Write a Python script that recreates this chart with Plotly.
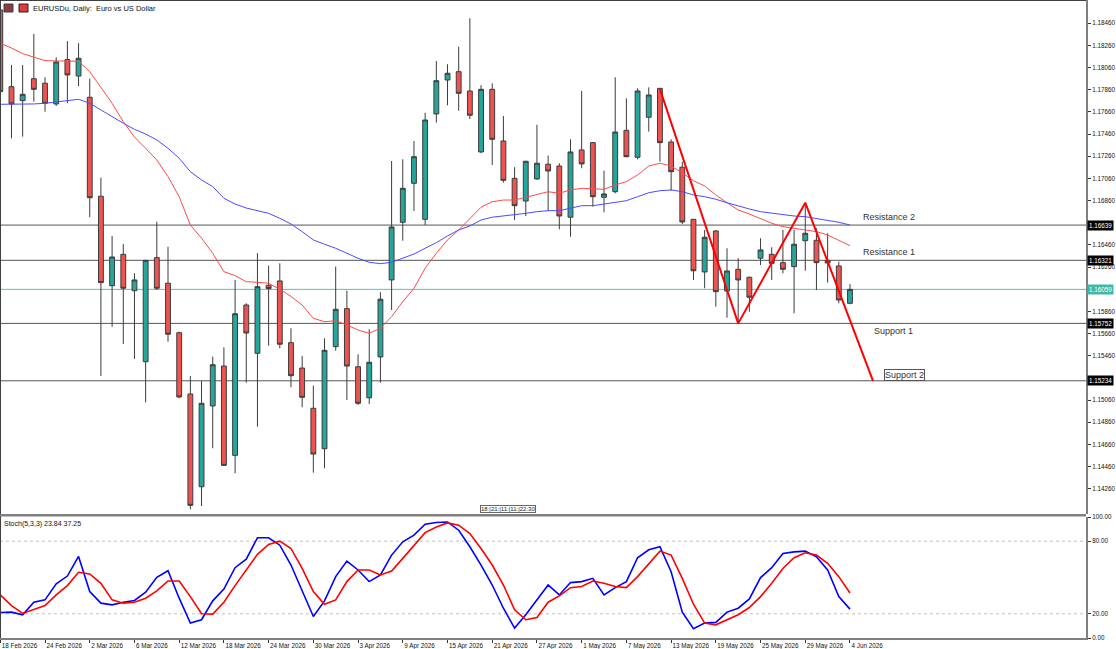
import plotly.graph_objects as go
import pandas as pd

# ---------------- DATA ----------------
dates = pd.bdate_range("2026-02-18", "2026-06-04")  # daily trading bars (weekdays)

opens = [1.18580, 1.17888, 1.17762, 1.17960, 1.17919, 1.17732, 1.18132, 1.17984, 1.17792, 1.16899,
         1.16092, 1.16375, 1.16047, 1.15406, 1.16345, 1.16114, 1.15668, 1.15115, 1.14278, 1.15007,
         1.15367, 1.14561, 1.15918, 1.15482, 1.16096, 1.16135, 1.15578, 1.15349, 1.14986, 1.14621,
         1.15542, 1.15885, 1.15361, 1.15081, 1.15449, 1.16144, 1.16664, 1.17016, 1.16691, 1.17642,
         1.17948, 1.18023, 1.17849, 1.17299, 1.17864, 1.17398, 1.17061, 1.16856, 1.17055, 1.17188,
         1.17172, 1.16710, 1.17317, 1.17383, 1.16890, 1.16940, 1.17494, 1.17251, 1.17612, 1.17873,
         1.17389, 1.17161, 1.16691, 1.16216, 1.16586, 1.16044, 1.16240, 1.16168, 1.16340, 1.16375,
         1.16300, 1.16264, 1.16498, 1.16502, 1.16321, 1.16270, 1.15933]
highs = [1.18620, 1.18084, 1.18084, 1.18364, 1.17973, 1.18153, 1.18300, 1.18280, 1.17960, 1.17067,
         1.16541, 1.16468, 1.16204, 1.16324, 1.16670, 1.16444, 1.15677, 1.15277, 1.15232, 1.15452,
         1.15536, 1.16144, 1.15933, 1.16385, 1.16273, 1.16294, 1.15708, 1.15458, 1.15190, 1.15618,
         1.16264, 1.16047, 1.15473, 1.15699, 1.16033, 1.17217, 1.17233, 1.17398, 1.17653, 1.18120,
         1.18090, 1.18249, 1.18505, 1.17901, 1.17919, 1.17623, 1.17161, 1.17218, 1.17545, 1.17266,
         1.17197, 1.17413, 1.17849, 1.17389, 1.17130, 1.17973, 1.17783, 1.17873, 1.17882, 1.17876,
         1.17413, 1.17211, 1.16694, 1.16595, 1.16595, 1.16430, 1.16340, 1.16173, 1.16520, 1.16439,
         1.16595, 1.16595, 1.16820, 1.16610, 1.16565, 1.16309, 1.16108]
lows = [1.17800, 1.17422, 1.17437, 1.17753, 1.17662, 1.17714, 1.17738, 1.17894, 1.16710, 1.15277,
        1.15722, 1.15566, 1.15431, 1.15040, 1.16053, 1.15587, 1.15076, 1.14074, 1.14104, 1.14625,
        1.14465, 1.14399, 1.15217, 1.14820, 1.15551, 1.15527, 1.15175, 1.14995, 1.14405, 1.14444,
        1.15506, 1.15061, 1.15016, 1.15025, 1.15217, 1.15873, 1.16498, 1.16766, 1.16640, 1.17563,
        1.17720, 1.17671, 1.17596, 1.17287, 1.17181, 1.17022, 1.16685, 1.16721, 1.17046, 1.16766,
        1.16601, 1.16534, 1.17152, 1.16805, 1.16754, 1.16926, 1.17251, 1.17233, 1.17482, 1.17211,
        1.16949, 1.16649, 1.16144, 1.16069, 1.15903, 1.15803, 1.15753, 1.15857, 1.16279, 1.16144,
        1.16204, 1.15843, 1.16227, 1.16053, 1.16120, 1.15933, 1.15924]
closes = [1.17843, 1.17732, 1.17819, 1.17864, 1.17738, 1.18111, 1.17994, 1.18144, 1.16886, 1.16120,
          1.16351, 1.16069, 1.16144, 1.16321, 1.16069, 1.15654, 1.15088, 1.14110, 1.15031, 1.15379,
          1.14471, 1.15839, 1.15665, 1.16083, 1.16066, 1.15564, 1.15280, 1.15085, 1.14573, 1.15509,
          1.15879, 1.15367, 1.15031, 1.15401, 1.15970, 1.16622, 1.16971, 1.17256, 1.17587, 1.17942,
          1.18009, 1.17828, 1.17630, 1.17864, 1.17413, 1.17043, 1.16814, 1.17215, 1.17197, 1.17127,
          1.16721, 1.17299, 1.17191, 1.16895, 1.16920, 1.17479, 1.17256, 1.17849, 1.17813, 1.17383,
          1.17121, 1.16667, 1.16227, 1.16529, 1.16038, 1.16225, 1.16144, 1.15988, 1.16415, 1.16294,
          1.16240, 1.16466, 1.16565, 1.16300, 1.16297, 1.15963, 1.16059]

ma_fast = [1.18280, 1.18237, 1.18186, 1.18153, 1.18123, 1.18120, 1.18117, 1.18117, 1.18023, 1.17885,
           1.17738, 1.17572, 1.17434, 1.17332, 1.17226, 1.17076, 1.16895, 1.16640, 1.16520, 1.16385,
           1.16219, 1.16183, 1.16128, 1.16123, 1.16114, 1.16060, 1.15995, 1.15918, 1.15798, 1.15767,
           1.15776, 1.15738, 1.15692, 1.15663, 1.15708, 1.15813, 1.15948, 1.16069, 1.16250, 1.16385,
           1.16505, 1.16595, 1.16700, 1.16800, 1.16850, 1.16865, 1.16865, 1.16890, 1.16920, 1.16940,
           1.16926, 1.16956, 1.16971, 1.16968, 1.16962, 1.17001, 1.17031, 1.17091, 1.17172, 1.17197,
           1.17172, 1.17112, 1.17039, 1.16992, 1.16911, 1.16841, 1.16775, 1.16739, 1.16700, 1.16655,
           1.16625, 1.16610, 1.16595, 1.16580, 1.16550, 1.16505, 1.16453]
ma_slow = [1.17729, 1.17729, 1.17732, 1.17732, 1.17738, 1.17750, 1.17762, 1.17774, 1.17738, 1.17678,
           1.17612, 1.17558, 1.17503, 1.17461, 1.17407, 1.17332, 1.17242, 1.17121, 1.17046, 1.16986,
           1.16881, 1.16829, 1.16793, 1.16769, 1.16745, 1.16700, 1.16649, 1.16580, 1.16505, 1.16466,
           1.16430, 1.16385, 1.16340, 1.16303, 1.16291, 1.16303, 1.16340, 1.16378, 1.16430, 1.16480,
           1.16541, 1.16595, 1.16631, 1.16685, 1.16710, 1.16721, 1.16730, 1.16745, 1.16760, 1.16769,
           1.16769, 1.16791, 1.16814, 1.16814, 1.16827, 1.16841, 1.16859, 1.16895, 1.16931, 1.16949,
           1.16956, 1.16940, 1.16911, 1.16895, 1.16872, 1.16841, 1.16811, 1.16784, 1.16760, 1.16745,
           1.16730, 1.16721, 1.16715, 1.16700, 1.16685, 1.16664, 1.16640]

stoch_k = [21.1, 21.4, 19.2, 29.6, 31.5, 44.7, 51.2, 67.4, 38.4, 28.8,
           27.4, 29.6, 31.0, 37.8, 50.1, 55.6, 32.9, 12.3, 15.1, 30.7,
           40.5, 58.1, 65.2, 82.8, 82.8, 76.7, 60.3, 38.4, 17.8, 30.7,
           50.7, 63.6, 56.2, 46.6, 52.1, 68.5, 79.5, 85.0, 94.0, 95.4,
           95.9, 89.1, 75.4, 60.3, 43.8, 24.6, 8.2, 19.2, 31.5, 43.8,
           35.6, 45.8, 46.6, 49.3, 35.6, 41.6, 46.6, 66.3, 72.9, 75.4,
           54.8, 21.4, 7.6, 12.3, 12.9, 21.4, 24.6, 32.3, 49.9, 58.1,
           69.9, 71.2, 71.8, 67.1, 56.2, 34.2, 23.84]
stoch_d = [35.6, 26.8, 20.3, 23.3, 26.8, 35.6, 43.3, 54.3, 52.9, 45.2,
           31.5, 28.8, 29.6, 32.9, 38.9, 47.1, 47.1, 34.2, 20.0, 19.7,
           29.6, 43.3, 56.2, 69.1, 77.3, 80.0, 74.0, 57.5, 38.4, 27.9,
           31.5, 46.6, 56.2, 56.2, 52.1, 55.3, 65.8, 76.7, 87.1, 91.8,
           95.1, 93.2, 86.3, 74.0, 60.3, 43.8, 23.3, 15.1, 17.0, 29.6,
           34.8, 41.6, 42.5, 47.1, 45.2, 42.5, 41.6, 50.7, 61.7, 71.8,
           68.5, 49.3, 27.9, 12.3, 10.9, 15.1, 19.2, 25.2, 34.2, 45.2,
           57.5, 66.3, 70.4, 68.5, 61.7, 50.7, 37.25]

date_tick_labels = ["18 Feb 2026", "24 Feb 2026", "2 Mar 2026", "6 Mar 2026", "12 Mar 2026",
                    "18 Mar 2026", "24 Mar 2026", "30 Mar 2026", "3 Apr 2026", "9 Apr 2026",
                    "15 Apr 2026", "21 Apr 2026", "27 Apr 2026", "1 May 2026", "7 May 2026",
                    "13 May 2026", "19 May 2026", "25 May 2026", "29 May 2026", "4 Jun 2026"]

price_ticks = [1.14260, 1.14460, 1.14660, 1.14860, 1.15060, 1.15260, 1.15460, 1.15660, 1.15860,
               1.16060, 1.16260, 1.16460, 1.16660, 1.16860, 1.17060, 1.17260, 1.17460, 1.17660,
               1.17860, 1.18060, 1.18260, 1.18460]

level_names = ["Resistance 2", "Resistance 1", "Support 1", "Support 2"]
level_values = [1.16639, 1.16321, 1.15752, 1.15234]
last_price = 1.16059

# hand-drawn zigzag (bar position, price)
zigzag_bar = [59.0, 66.0, 72.0, 78.06]
zigzag_price = [1.17866, 1.15752, 1.16841, 1.15234]

stoch_levels = [20, 80]
stoch_ticks = [0, 20, 80, 100]

# ---------------- FIGURE ----------------
x = list(range(len(dates)))
date_str = [f"{d.day} {d.strftime('%b %Y')}" for d in dates]
tick_pos = [date_str.index(lbl) for lbl in date_tick_labels]

W, H = 1116, 649
ML, MR, MT, MB = 0, 30, 0, 11
PW, PH = W - ML - MR, H - MT - MB

XR = [-0.027, 97.11]
main_dom = [1 - 514 / PH, 1]
stoch_dom = [0, 1 - 517 / PH]

GREEN = "#26a69a"
RED = "#ef5350"
EDGE = "#3c3c3c"
FONT = "Liberation Sans"
AX_FONT = dict(family=FONT, size=6.3, color="#111111")

# price labels hidden behind the axis tags (as in the terminal)
tagged = level_values + [last_price]
price_text = ["" if any(abs(t - v) < 0.0003 for v in tagged) else f"{t:.5f}" for t in price_ticks]

fig = go.Figure()

fig.add_trace(go.Scatter(x=x, y=ma_fast, mode="lines", line=dict(color="#ff4a4a", width=1),
                         hoverinfo="skip", xaxis="x", yaxis="y"))
fig.add_trace(go.Scatter(x=x, y=ma_slow, mode="lines", line=dict(color="#4a4aff", width=1),
                         hoverinfo="skip", xaxis="x", yaxis="y"))
fig.add_trace(go.Candlestick(
    x=x, open=opens, high=highs, low=lows, close=closes,
    increasing=dict(fillcolor=GREEN, line=dict(color=EDGE, width=1)),
    decreasing=dict(fillcolor=RED, line=dict(color=EDGE, width=1)),
    whiskerwidth=0, xaxis="x", yaxis="y", hoverinfo="skip"))
fig.add_trace(go.Scatter(x=zigzag_bar, y=zigzag_price, mode="lines",
                         line=dict(color="#ff0000", width=2), hoverinfo="skip",
                         xaxis="x", yaxis="y"))

fig.add_trace(go.Scatter(x=x, y=stoch_k, mode="lines", line=dict(color="#0000ff", width=1.6),
                         hoverinfo="skip", xaxis="x2", yaxis="y2"))
fig.add_trace(go.Scatter(x=x, y=stoch_d, mode="lines", line=dict(color="#ff0000", width=1.6),
                         hoverinfo="skip", xaxis="x2", yaxis="y2"))

shapes = []
for v in level_values:
    shapes.append(dict(type="line", xref="paper", x0=0, x1=1, yref="y", y0=v, y1=v,
                       line=dict(color="#555555", width=1), layer="below"))
shapes.append(dict(type="line", xref="paper", x0=0, x1=1, yref="y", y0=last_price, y1=last_price,
                   line=dict(color="#52c4b4", width=1), layer="below"))
for v in stoch_levels:
    shapes.append(dict(type="line", xref="paper", x0=0, x1=1, yref="y2", y0=v, y1=v,
                       line=dict(color="#c0c0c0", width=1, dash="dot"), layer="below"))
# frame: top & left borders, pane separator
shapes.append(dict(type="line", xref="paper", yref="paper", x0=0, x1=1, y0=1, y1=1,
                   line=dict(color="#404040", width=2)))
shapes.append(dict(type="line", xref="paper", yref="paper", x0=0, x1=0, y0=0, y1=1,
                   line=dict(color="#404040", width=2)))
shapes.append(dict(type="rect", xref="paper", yref="paper", x0=0, x1=1,
                   y0=1 - 516.5 / PH, y1=1 - 514 / PH, fillcolor="#808080", line=dict(width=0)))
# small title icons
shapes.append(dict(type="rect", xref="paper", yref="paper", x0=4 / PW, x1=13 / PW,
                   y0=1 - 12 / PH, y1=1 - 4 / PH, fillcolor="#8e3b3b", line=dict(color="#3a3a5a", width=1)))
shapes.append(dict(type="rect", xref="paper", yref="paper", x0=19 / PW, x1=28 / PW,
                   y0=1 - 12 / PH, y1=1 - 4 / PH, fillcolor="#e23b3b", line=dict(color="#222222", width=1)))

annotations = []
# title
annotations.append(dict(xref="paper", yref="paper", x=31 / PW, y=1 - 2 / PH, xanchor="left",
                        yanchor="top", showarrow=False, text="EURUSDu, Daily:  Euro vs US Dollar",
                        font=dict(family=FONT, size=7.5, color="#111111")))
annotations.append(dict(xref="paper", yref="paper", x=2 / PW, y=1 - 518 / PH, xanchor="left",
                        yanchor="top", showarrow=False, text="Stoch(5,3,3) 23.84 37.25",
                        font=dict(family=FONT, size=7, color="#111111")))
# level descriptions
label_pos = {"Resistance 2": (77.0, "bottom"), "Resistance 1": (77.0, "bottom"),
             "Support 1": (78.0, "top"), "Support 2": (79.05, "bottom")}
for name, v in zip(level_names, level_values):
    bx, anchor = label_pos[name]
    a = dict(x=bx, y=v, xref="x", yref="y", xanchor="left", yanchor=anchor, showarrow=False,
             text=name, font=dict(family=FONT, size=9, color="#333333"),
             yshift=1 if anchor == "bottom" else -1)
    if name == "Support 2":
        a.update(bordercolor="#555555", borderwidth=1, borderpad=0, bgcolor="white", yshift=0)
    annotations.append(a)
# price tags on the axis
for v in level_values:
    annotations.append(dict(x=1.0012, y=v, xref="paper", yref="y", xanchor="left", yanchor="middle",
                            showarrow=False, text=f"{v:.5f}", bgcolor="#000000",
                            font=dict(family=FONT, size=6.3, color="white"), borderpad=1))
annotations.append(dict(x=1.0012, y=last_price, xref="paper", yref="y", xanchor="left",
                        yanchor="middle", showarrow=False, text=f"{last_price:.5f}",
                        bgcolor="#40b8a8", font=dict(family=FONT, size=6.3, color="white"), borderpad=1))
# time scale marks
annotations.append(dict(xref="paper", yref="paper", x=480 / PW, y=1 - 513 / PH, xanchor="left",
                        yanchor="bottom", showarrow=False, text="18:|21:|11:|11:|22:30",
                        font=dict(family=FONT, size=6, color="#222222"),
                        bordercolor="#666666", borderwidth=1, borderpad=0))

fig.update_layout(
    width=W, height=H, margin=dict(l=ML, r=MR, t=MT, b=MB),
    template="none", paper_bgcolor="white", plot_bgcolor="white",
    showlegend=False, boxgap=0.38,
    xaxis=dict(domain=[0, 1], range=XR, anchor="y", showticklabels=False, ticks="",
               showgrid=False, zeroline=False, showline=False, rangeslider=dict(visible=False),
               automargin=False),
    yaxis=dict(domain=main_dom, range=[1.14032, 1.18670], side="right", anchor="x",
               tickvals=price_ticks, ticktext=price_text,
               ticks="outside", ticklen=3, tickcolor="#333333", tickfont=AX_FONT,
               showgrid=False, zeroline=False, showline=True, linecolor="#7f7f7f", linewidth=2,
               automargin=False),
    xaxis2=dict(domain=[0, 1], range=XR, anchor="y2", tickvals=tick_pos, ticktext=date_tick_labels,
                ticks="outside", ticklen=3, tickcolor="#333333", ticklabelposition="outside right",
                tickangle=0, tickfont=AX_FONT,
                showgrid=False, zeroline=False, showline=True, linecolor="#7f7f7f", linewidth=2,
                automargin=False),
    yaxis2=dict(domain=stoch_dom, range=[0, 100], side="right", anchor="x2",
                tickvals=stoch_ticks, ticktext=[f"{t:.2f}" for t in stoch_ticks],
                ticks="outside", ticklen=3, tickcolor="#333333", tickfont=AX_FONT,
                showgrid=False, zeroline=False, showline=True, linecolor="#7f7f7f", linewidth=2,
                automargin=False),
    shapes=shapes, annotations=annotations,
)

fig.write_html("out.html")
